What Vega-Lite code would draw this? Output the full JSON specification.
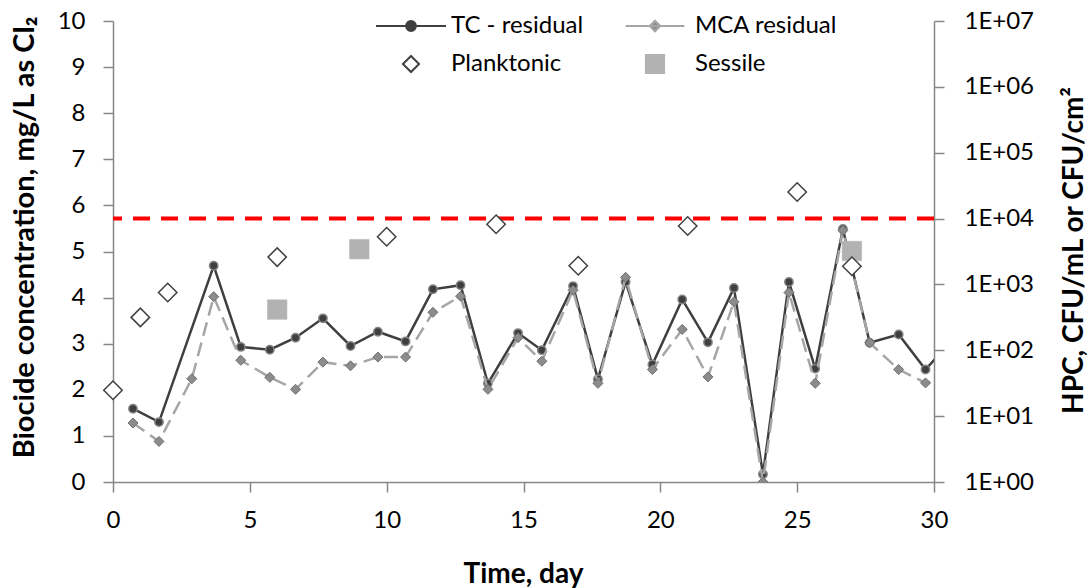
{
  "$schema": "https://vega.github.io/schema/vega-lite/v6.json",
  "width": 821,
  "height": 461,
  "autosize": {"type": "none"},
  "padding": {"left": 113, "top": 21, "right": 157, "bottom": 106},
  "background": "white",
  "config": {
    "font": "Lato",
    "view": {"stroke": null},
    "axis": {"grid": false, "labelFlush": false, "labelOverlap": false}
  },
  "datasets": {
    "resid": [
      {"series": "TC", "day": 0.73, "value": 1.59},
      {"series": "TC", "day": 1.68, "value": 1.30},
      {"series": "TC", "day": 3.68, "value": 4.69},
      {"series": "TC", "day": 4.67, "value": 2.93},
      {"series": "TC", "day": 5.73, "value": 2.87},
      {"series": "TC", "day": 6.67, "value": 3.13},
      {"series": "TC", "day": 7.67, "value": 3.55},
      {"series": "TC", "day": 8.68, "value": 2.95},
      {"series": "TC", "day": 9.68, "value": 3.26},
      {"series": "TC", "day": 10.69, "value": 3.05},
      {"series": "TC", "day": 11.69, "value": 4.18},
      {"series": "TC", "day": 12.70, "value": 4.27},
      {"series": "TC", "day": 13.70, "value": 2.14},
      {"series": "TC", "day": 14.80, "value": 3.23},
      {"series": "TC", "day": 15.67, "value": 2.86},
      {"series": "TC", "day": 16.81, "value": 4.25},
      {"series": "TC", "day": 17.72, "value": 2.23},
      {"series": "TC", "day": 18.73, "value": 4.34},
      {"series": "TC", "day": 19.71, "value": 2.55},
      {"series": "TC", "day": 20.80, "value": 3.96},
      {"series": "TC", "day": 21.74, "value": 3.03},
      {"series": "TC", "day": 22.69, "value": 4.21},
      {"series": "TC", "day": 23.75, "value": 0.17},
      {"series": "TC", "day": 24.70, "value": 4.34},
      {"series": "TC", "day": 25.66, "value": 2.46},
      {"series": "TC", "day": 26.67, "value": 5.49},
      {"series": "TC", "day": 27.65, "value": 3.02},
      {"series": "TC", "day": 28.71, "value": 3.20},
      {"series": "TC", "day": 29.69, "value": 2.44},
      {"series": "TC", "day": 30.69, "value": 3.10},
      {"series": "MCA", "day": 0.73, "value": 1.28},
      {"series": "MCA", "day": 1.68, "value": 0.88},
      {"series": "MCA", "day": 2.88, "value": 2.24},
      {"series": "MCA", "day": 3.68, "value": 4.02},
      {"series": "MCA", "day": 4.67, "value": 2.64},
      {"series": "MCA", "day": 5.73, "value": 2.27},
      {"series": "MCA", "day": 6.67, "value": 2.01},
      {"series": "MCA", "day": 7.67, "value": 2.60},
      {"series": "MCA", "day": 8.68, "value": 2.52},
      {"series": "MCA", "day": 9.68, "value": 2.71},
      {"series": "MCA", "day": 10.69, "value": 2.71},
      {"series": "MCA", "day": 11.69, "value": 3.68},
      {"series": "MCA", "day": 12.70, "value": 4.03},
      {"series": "MCA", "day": 13.70, "value": 2.01},
      {"series": "MCA", "day": 14.80, "value": 3.13},
      {"series": "MCA", "day": 15.67, "value": 2.62},
      {"series": "MCA", "day": 16.81, "value": 4.16},
      {"series": "MCA", "day": 17.72, "value": 2.14},
      {"series": "MCA", "day": 18.73, "value": 4.44},
      {"series": "MCA", "day": 19.71, "value": 2.44},
      {"series": "MCA", "day": 20.80, "value": 3.31},
      {"series": "MCA", "day": 21.74, "value": 2.28},
      {"series": "MCA", "day": 22.69, "value": 3.91},
      {"series": "MCA", "day": 23.75, "value": 0.0},
      {"series": "MCA", "day": 24.70, "value": 4.11},
      {"series": "MCA", "day": 25.66, "value": 2.14},
      {"series": "MCA", "day": 26.67, "value": 5.46},
      {"series": "MCA", "day": 27.65, "value": 3.02},
      {"series": "MCA", "day": 28.71, "value": 2.44},
      {"series": "MCA", "day": 29.69, "value": 2.15},
      {"series": "MCA", "day": 30.69, "value": 2.25}
    ],
    "plank": [
      {"day": 0, "hpc": 24.7},
      {"day": 1, "hpc": 316},
      {"day": 2, "hpc": 754},
      {"day": 6, "hpc": 2600},
      {"day": 10, "hpc": 5300},
      {"day": 14, "hpc": 8200},
      {"day": 17, "hpc": 1920},
      {"day": 21, "hpc": 7700},
      {"day": 25, "hpc": 25300},
      {"day": 27, "hpc": 1890}
    ],
    "sessile": [
      {"day": 6, "hpc": 415},
      {"day": 9, "hpc": 3430},
      {"day": 27, "hpc": 3220}
    ],
    "legendItems": [
      {"series": "TC - residual", "day": -10, "value": 5},
      {"series": "MCA residual", "day": -10, "value": 5},
      {"series": "Planktonic", "day": -10, "value": 5},
      {"series": "Sessile", "day": -10, "value": 5}
    ]
  },
  "layer": [
    {
      "data": {"name": "resid"},
      "encoding": {
        "x": {
          "field": "day", "type": "quantitative",
          "scale": {"domain": [0, 30], "nice": false, "zero": false},
          "axis": {
            "values": [0, 5, 10, 15, 20, 25, 30],
            "title": "Time, day",
            "domainColor": "#868686", "domainWidth": 1.5,
            "tickColor": "#868686", "tickWidth": 1.5, "tickSize": 10,
            "labelFont": "Lato", "labelFontSize": 24, "labelColor": "#000000", "labelPadding": 16,
            "titleFont": "Lato", "titleFontSize": 28, "titleFontWeight": "bold", "titleColor": "#000000",
            "titleX": 410, "titleY": 100, "titleAlign": "center", "titleBaseline": "alphabetic"
          }
        },
        "y": {
          "field": "value", "type": "quantitative",
          "scale": {"domain": [0, 10], "nice": false},
          "axis": {
            "orient": "left",
            "values": [0, 1, 2, 3, 4, 5, 6, 7, 8, 9, 10],
            "title": "Biocide concentration, mg/L as Cl₂",
            "domainColor": "#868686", "domainWidth": 1.5,
            "tickColor": "#868686", "tickWidth": 1.5, "tickSize": 10,
            "labelFont": "Lato", "labelFontSize": 24, "labelColor": "#000000", "labelPadding": 18,
            "titleFont": "Lato", "titleFontSize": 29, "titleFontWeight": "bold", "titleColor": "#000000",
            "titleAngle": -90, "titleX": -80, "titleY": 216, "titleAlign": "center", "titleBaseline": "alphabetic"
          }
        }
      },
      "layer": [
        {
          "transform": [{"filter": "datum.series === 'TC'"}],
          "mark": {"type": "line", "clip": true, "color": "#3f3f3f", "strokeWidth": 2.5}
        },
        {
          "transform": [{"filter": "datum.series === 'TC'"}],
          "mark": {"type": "point", "clip": true, "shape": "circle", "filled": true, "fill": "#3f3f3f", "stroke": "#858585", "strokeWidth": 1.5, "size": 70, "opacity": 1}
        },
        {
          "transform": [{"filter": "datum.series === 'MCA'"}],
          "mark": {"type": "line", "clip": true, "color": "#a6a6a6", "strokeWidth": 2.5, "strokeDash": [14, 7]}
        },
        {
          "transform": [{"filter": "datum.series === 'MCA'"}],
          "mark": {"type": "point", "clip": true, "shape": "diamond", "filled": true, "fill": "#8c8c8c", "stroke": "#6e6e6e", "strokeWidth": 1, "size": 100, "opacity": 1}
        },
        {
          "data": {"name": "legendItems"},
          "mark": {"type": "point", "clip": true, "size": 4900, "strokeWidth": 2, "opacity": 1, "filled": true},
          "encoding": {
            "shape": {
              "field": "series", "type": "nominal",
              "scale": {
                "domain": ["TC - residual", "Planktonic", "MCA residual", "Sessile"],
                "range": [
                  "M-1,0L1,0M0.14,0A0.14,0.14,0,1,1,-0.14,0A0.14,0.14,0,1,1,0.14,0Z",
                  "M0,-0.23L0.23,0L0,0.23L-0.23,0Z",
                  "M-0.84,0L0.84,0M0,-0.15L0.15,0L0,0.15L-0.15,0Z",
                  "M-0.26,-0.26L0.26,-0.26L0.26,0.26L-0.26,0.26Z"
                ]
              },
              "legend": {
                "title": null, "orient": "none", "legendX": 262, "legendY": -7, "columns": 2,
                "symbolSize": 4900, "symbolStrokeWidth": 2, "clipHeight": 24,
                "labelFont": "Lato", "labelFontSize": 24, "labelColor": "#000000", "labelOffset": 4, "labelLimit": 300,
                "columnPadding": 35, "rowPadding": 14, "padding": 0
              }
            },
            "fill": {
              "field": "series", "type": "nominal",
              "scale": {
                "domain": ["TC - residual", "Planktonic", "MCA residual", "Sessile"],
                "range": ["#3f3f3f", "#ffffff", "#8c8c8c", "#b2b2b2"]
              },
              "legend": {
                "title": null, "orient": "none", "legendX": 262, "legendY": -7, "columns": 2,
                "symbolSize": 4900, "symbolStrokeWidth": 2, "clipHeight": 24,
                "labelFont": "Lato", "labelFontSize": 24, "labelColor": "#000000", "labelOffset": 4, "labelLimit": 300,
                "columnPadding": 35, "rowPadding": 14, "padding": 0
              }
            },
            "stroke": {
              "field": "series", "type": "nominal",
              "scale": {
                "domain": ["TC - residual", "Planktonic", "MCA residual", "Sessile"],
                "range": ["#3f3f3f", "#404040", "#a6a6a6", "#b2b2b2"]
              },
              "legend": {
                "title": null, "orient": "none", "legendX": 262, "legendY": -7, "columns": 2,
                "symbolSize": 4900, "symbolStrokeWidth": 2, "clipHeight": 24,
                "labelFont": "Lato", "labelFontSize": 24, "labelColor": "#000000", "labelOffset": 4, "labelLimit": 300,
                "columnPadding": 35, "rowPadding": 14, "padding": 0
              }
            }
          }
        }
      ]
    },
    {
      "encoding": {
        "y": {
          "field": "hpc", "type": "quantitative",
          "scale": {"type": "log", "domain": [1, 10000000], "nice": false},
          "axis": {
            "orient": "right",
            "values": [1, 10, 100, 1000, 10000, 100000, 1000000, 10000000],
            "labelExpr": "'1E+0' + round(log(datum.value) / LN10)",
            "title": "HPC, CFU/mL or CFU/cm²",
            "domainColor": "#868686", "domainWidth": 1.5,
            "tickColor": "#868686", "tickWidth": 1.5, "tickSize": 10,
            "labelFont": "Lato", "labelFontSize": 24, "labelColor": "#000000", "labelPadding": 20,
            "titleFont": "Lato", "titleFontSize": 28, "titleFontWeight": "bold", "titleColor": "#000000",
            "titleAngle": -90, "titleX": 148, "titleY": 229, "titleAlign": "center", "titleBaseline": "alphabetic"
          }
        }
      },
      "layer": [
        {
          "data": {"values": [{"hpc": 10000}]},
          "mark": {"type": "rule", "color": "#ff0000", "strokeWidth": 4, "strokeDash": [17, 11]},
          "encoding": {}
        },
        {
          "data": {"name": "sessile"},
          "mark": {"type": "point", "shape": "square", "filled": true, "fill": "#b2b2b2", "stroke": "#b2b2b2", "strokeWidth": 0.5, "size": 380, "opacity": 1},
          "encoding": {
            "x": {
              "field": "day", "type": "quantitative",
              "axis": {
                "values": [0, 5, 10, 15, 20, 25, 30],
                "title": "Time, day",
                "domainColor": "#868686", "domainWidth": 1.5,
                "tickColor": "#868686", "tickWidth": 1.5, "tickSize": 10,
                "labelFont": "Lato", "labelFontSize": 24, "labelColor": "#000000", "labelPadding": 16,
                "titleFont": "Lato", "titleFontSize": 28, "titleFontWeight": "bold", "titleColor": "#000000",
                "titleX": 410, "titleY": 100, "titleAlign": "center", "titleBaseline": "alphabetic"
              }
            }
          }
        },
        {
          "data": {"name": "plank"},
          "mark": {"type": "point", "shape": "diamond", "filled": true, "fill": "#ffffff", "stroke": "#404040", "strokeWidth": 1.5, "size": 340, "opacity": 1},
          "encoding": {
            "x": {
              "field": "day", "type": "quantitative",
              "axis": {
                "values": [0, 5, 10, 15, 20, 25, 30],
                "title": "Time, day",
                "domainColor": "#868686", "domainWidth": 1.5,
                "tickColor": "#868686", "tickWidth": 1.5, "tickSize": 10,
                "labelFont": "Lato", "labelFontSize": 24, "labelColor": "#000000", "labelPadding": 16,
                "titleFont": "Lato", "titleFontSize": 28, "titleFontWeight": "bold", "titleColor": "#000000",
                "titleX": 410, "titleY": 100, "titleAlign": "center", "titleBaseline": "alphabetic"
              }
            }
          }
        }
      ]
    }
  ],
  "resolve": {"scale": {"y": "independent"}}
}
